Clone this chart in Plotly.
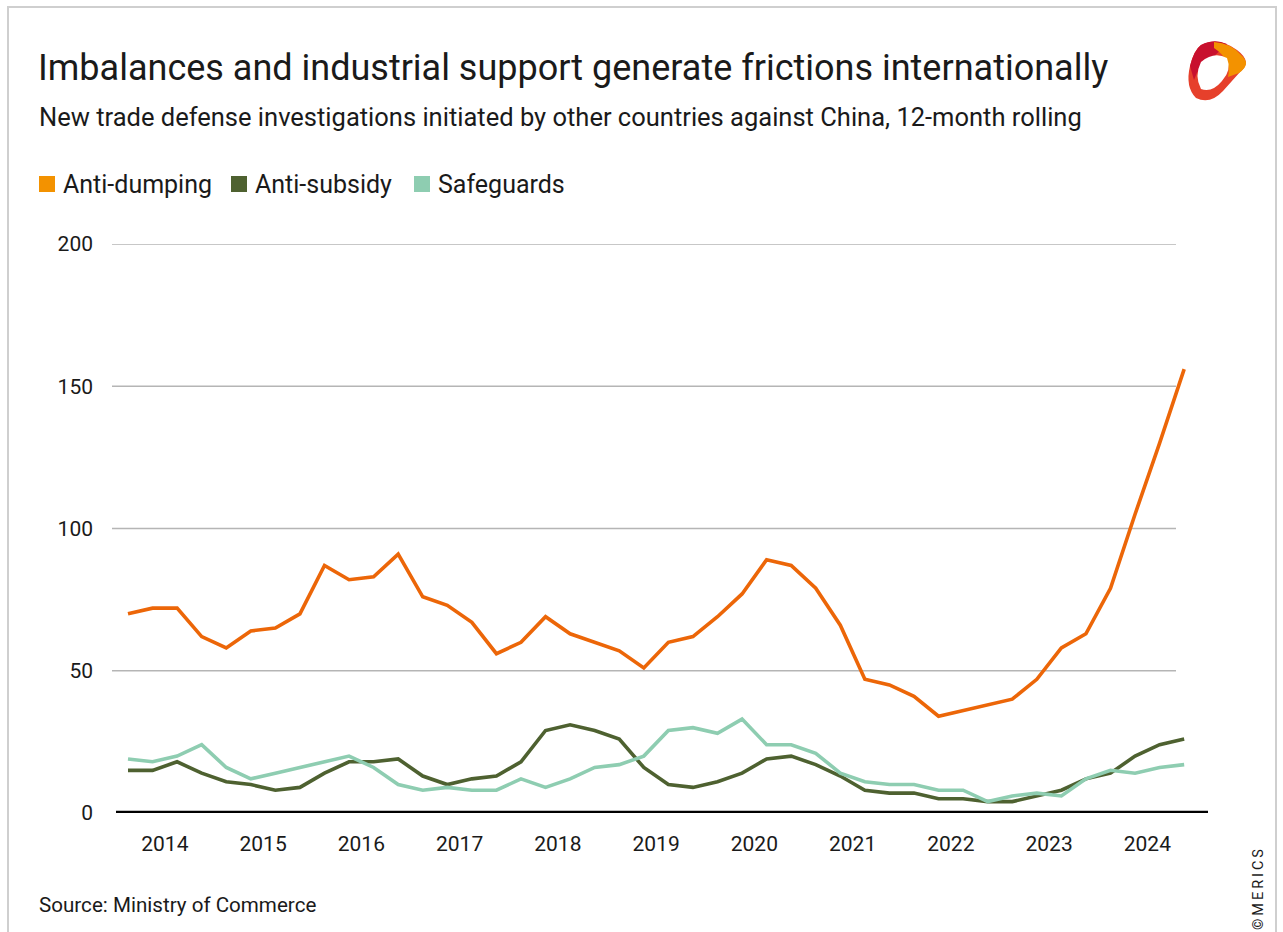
import plotly.graph_objects as go

# Quarterly periods, 12-month rolling counts of new investigations
years = [2014, 2015, 2016, 2017, 2018, 2019, 2020, 2021, 2022, 2023, 2024]
periods = [f"{y} Q{q}" for y in years for q in (1, 2, 3, 4)]

anti_dumping = [70, 72, 72, 62, 58, 64, 65, 70,
                87, 82, 83, 91, 76, 73, 67, 56,
                60, 69, 63, 60, 57, 51, 60, 62,
                69, 77, 89, 87, 79, 66, 47, 45,
                41, 34, 36, 38, 40, 47, 58, 63,
                79, 105, 130, 156]
anti_subsidy = [15, 15, 18, 14, 11, 10, 8, 9,
                14, 18, 18, 19, 13, 10, 12, 13,
                18, 29, 31, 29, 26, 16, 10, 9,
                11, 14, 19, 20, 17, 13, 8, 7,
                7, 5, 5, 4, 4, 6, 8, 12,
                14, 20, 24, 26]
safeguards = [19, 18, 20, 24, 16, 12, 14, 16,
              18, 20, 16, 10, 8, 9, 8, 8,
              12, 9, 12, 16, 17, 20, 29, 30,
              28, 33, 24, 24, 21, 14, 11, 10,
              10, 8, 8, 4, 6, 7, 6, 12,
              15, 14, 16, 17]

series_names = ["Anti-dumping", "Anti-subsidy", "Safeguards"]
line_colors = ["#EC6608", "#4E6130", "#8ECDB1"]
legend_colors = ["#F39200", "#4E6130", "#8ECDB1"]
y_ticks = [0, 50, 100, 150, 200]
y_grid = [50, 100, 150, 200]

W, H = 1283, 932
ML, MR, MT, MB = 112, 75, 244, 119
PW, PH = W - ML - MR, H - MT - MB
FONT = "Roboto, 'Noto Sans', sans-serif"
TEXT = "#1a1a1a"


def px(x):
    return (x - ML) / PW


def py(y):
    return (H - MB - y) / PH


xs = list(range(len(periods)))
fig = go.Figure()
for name, vals, col in zip(series_names, [anti_dumping, anti_subsidy, safeguards], line_colors):
    fig.add_trace(go.Scatter(x=xs, y=vals, name=name, mode="lines",
                             line=dict(color=col, width=3.6), showlegend=False,
                             hovertemplate="%{text}: %{y}<extra>" + name + "</extra>",
                             text=periods))

shapes = []
# Card border
shapes.append(dict(type="rect", xref="paper", yref="paper", x0=px(8), x1=px(1276),
                   y0=py(960), y1=py(7), line=dict(color="#cfcfcf", width=2),
                   fillcolor="rgba(0,0,0,0)", layer="below"))
# Horizontal gridlines
for g in y_grid:
    shapes.append(dict(type="line", xref="paper", yref="y", x0=px(112), x1=px(1176),
                       y0=g, y1=g, line=dict(color="#b5b5b5", width=1.6), layer="below"))
# Zero baseline
shapes.append(dict(type="line", xref="paper", yref="y", x0=px(116), x1=px(1208),
                   y0=0, y1=0, line=dict(color="#000000", width=4.5), layer="above"))

# Legend squares and labels
annotations = []
legend_x = [39, 231, 414]
for lx, name, col in zip(legend_x, series_names, legend_colors):
    shapes.append(dict(type="rect", xref="paper", yref="paper", x0=px(lx), x1=px(lx + 16),
                       y0=py(192), y1=py(176), fillcolor=col, line=dict(width=0)))
    annotations.append(dict(text=name, xref="paper", yref="paper", x=px(lx + 22), y=py(184),
                            xanchor="left", yanchor="middle", showarrow=False,
                            font=dict(family=FONT, size=25, color=TEXT)))


def logo_path(points):
    parts = []
    for cmd, *coords in points:
        c = []
        for j in range(0, len(coords), 2):
            c.append(f"{px(coords[j]):.5f},{py(coords[j + 1]):.5f}")
        parts.append(cmd + " " + " ".join(c))
    return " ".join(parts) + " Z"


# MERICS logo mark
logo = [
    ([("M", 1201, 45), ("Q", 1218, 36, 1237, 50), ("Q", 1253, 62, 1240, 72),
      ("L", 1223, 91), ("Q", 1210, 105, 1196, 98), ("Q", 1185, 87, 1190, 66),
      ("Q", 1194, 50, 1201, 45)], "#E6402B"),
    ([("M", 1201, 45), ("Q", 1214, 38, 1227, 44), ("L", 1210, 60),
      ("Q", 1198, 66, 1194, 80), ("L", 1190, 66), ("Q", 1194, 50, 1201, 45)], "#C8102E"),
    ([("M", 1214, 42), ("Q", 1231, 43, 1241, 55), ("Q", 1252, 64, 1239, 73),
      ("L", 1228, 77), ("Q", 1232, 60, 1214, 48)], "#F39200"),
    ([("M", 1201, 62), ("Q", 1214, 51, 1227, 58), ("Q", 1232, 70, 1222, 81),
      ("Q", 1212, 93, 1201, 89), ("Q", 1194, 76, 1201, 62)], "#FFFFFF"),
]
for pts, col in logo:
    shapes.append(dict(type="path", xref="paper", yref="paper", path=logo_path(pts),
                       fillcolor=col, line=dict(width=0)))

annotations += [
    dict(text="Imbalances and industrial support generate frictions internationally",
         xref="paper", yref="paper", x=px(36), y=py(68), xanchor="left", yanchor="middle",
         showarrow=False, font=dict(family=FONT, size=36, color=TEXT)),
    dict(text="New trade defense investigations initiated by other countries against China, 12-month rolling",
         xref="paper", yref="paper", x=px(37), y=py(117), xanchor="left", yanchor="middle",
         showarrow=False, font=dict(family=FONT, size=25.5, color=TEXT)),
    dict(text="Source: Ministry of Commerce", xref="paper", yref="paper", x=px(37), y=py(905),
         xanchor="left", yanchor="middle", showarrow=False,
         font=dict(family=FONT, size=20.6, color=TEXT)),
    dict(text="©\u2009M\u2009E\u2009R\u2009I\u2009C\u2009S", xref="paper", yref="paper",
         x=px(1258), y=py(890), xanchor="center", yanchor="middle", textangle=-90,
         showarrow=False, font=dict(family=FONT, size=14.5, color=TEXT)),
]

fig.update_layout(
    width=W, height=H, margin=dict(l=ML, r=MR, t=MT, b=MB),
    paper_bgcolor="white", plot_bgcolor="white",
    shapes=shapes, annotations=annotations, showlegend=False,
    xaxis=dict(range=[-0.651, 43.97], showgrid=False, zeroline=False, showline=False,
               tickmode="array", tickvals=[1.5 + 4 * i for i in range(len(years))],
               ticktext=[str(y) for y in years], ticks="", ticklabelstandoff=16,
               tickfont=dict(family=FONT, size=21, color=TEXT)),
    yaxis=dict(range=[0, 200], showgrid=False, zeroline=False, showline=False,
               tickmode="array", tickvals=y_ticks, ticks="", ticklabelstandoff=18,
               tickfont=dict(family=FONT, size=21, color=TEXT)),
)

fig.write_html("out.html")
